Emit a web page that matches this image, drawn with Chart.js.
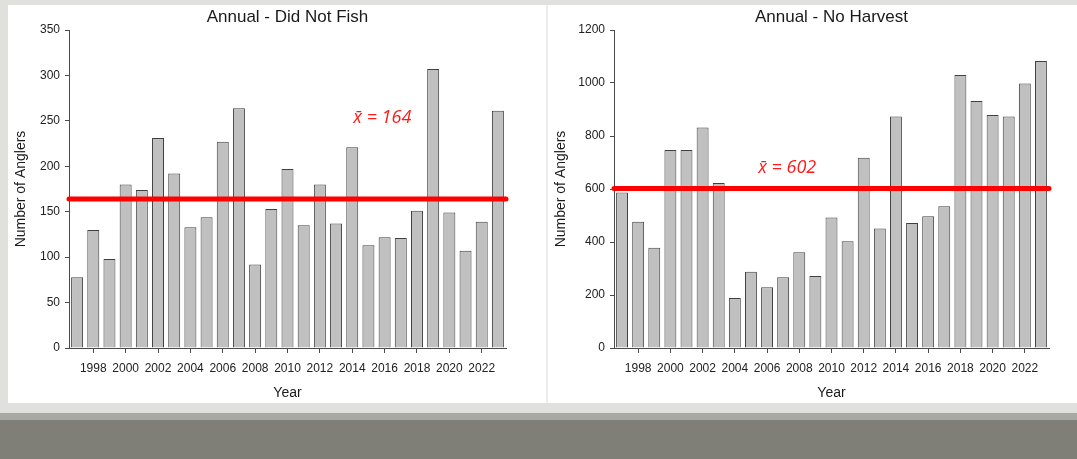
<!DOCTYPE html>
<html>
<head>
<meta charset="utf-8">
<script src="https://cdn.jsdelivr.net/npm/chart.js@4/dist/chart.umd.min.js"></script>
<style>
  html, body { margin: 0; padding: 0; }
  body { width: 1077px; height: 459px; background: #e0e0dc; position: relative; overflow: hidden; }
  .panel { position: absolute; top: 5px; height: 398px; background: #fff; }
  #panel_left { left: 8px; width: 538px; }
  #panel_right { left: 548px; width: 529px; }
  #sep { position: absolute; left: 546px; top: 5px; width: 2px; height: 398px; background: #ececea; }
  #band_mid { position: absolute; left: 0; top: 413px; width: 1077px; height: 7px; background: #a9a9a3; }
  #band_dark { position: absolute; left: 0; top: 420px; width: 1077px; height: 39px; background: #7f7f78; }
</style>
</head>
<body>
<div class="panel" id="panel_left"><canvas id="did_not_fish"></canvas></div>
<div id="sep"></div>
<div class="panel" id="panel_right"><canvas id="no_harvest"></canvas></div>
<div id="band_mid"></div>
<div id="band_dark"></div>

<script>
const years = [1997, 1998, 1999, 2000, 2001, 2002, 2003, 2004, 2005, 2006, 2007, 2008, 2009, 2010,
  2011, 2012, 2013, 2014, 2015, 2016, 2017, 2018, 2019, 2020, 2021, 2022, 2023];

const didNotFish = [78, 130, 98, 180, 174, 231, 192, 133, 144, 227, 264, 92, 153, 197,
  135, 180, 137, 221, 113, 122, 121, 151, 307, 149, 107, 139, 261];
const didNotFishMean = 164;

const noHarvest = [587, 476, 378, 747, 747, 832, 623, 189, 288, 229, 267, 361, 272, 492,
  403, 718, 451, 874, 472, 497, 535, 1030, 932, 879, 874, 998, 1083];
const noHarvestMean = 602;

const axisColor = '#4a4a4a';
const fontFamily = 'Liberation Sans, Arial, sans-serif';
const tickFont = { family: fontFamily, size: 12 };

// chart title centred on the plot area (not the whole canvas), like the original
const plotTitlePlugin = {
  id: 'plotTitle',
  afterDraw(chart, args, opts) {
    const { ctx, chartArea } = chart;
    ctx.save();
    ctx.fillStyle = '#1a1a1a';
    ctx.font = '17px ' + fontFamily;
    ctx.textAlign = 'center';
    ctx.textBaseline = 'middle';
    ctx.fillText(opts.text, (chartArea.left + chartArea.right) / 2, 12.5);
    ctx.restore();
  }
};

// draws the red mean line across the plot plus the x-bar label
const meanLinePlugin = {
  id: 'meanLine',
  afterDatasetsDraw(chart, args, opts) {
    const { ctx, chartArea, scales } = chart;
    const y = scales.y.getPixelForValue(opts.value);
    ctx.save();
    ctx.strokeStyle = '#ff0000';
    ctx.lineWidth = 5;
    ctx.lineCap = 'round';
    ctx.beginPath();
    ctx.moveTo(chartArea.left, y);
    ctx.lineTo(chartArea.right, y);
    ctx.stroke();

    ctx.fillStyle = '#ff1a1a';
    ctx.font = 'italic 18px "Open Sans", sans-serif';
    ctx.textAlign = 'center';
    ctx.textBaseline = 'middle';
    const lx = scales.x.getPixelForValue(opts.labelAt[0]);
    const ly = scales.y.getPixelForValue(opts.labelAt[1]);
    ctx.fillText('x\u0304 = ' + opts.value, lx, ly);
    ctx.restore();
  }
};

function makeBarChart(canvas_id, title, values, mean, yMax, yStep, yWidth, rightPad, labelAt, panelW) {
  const canvas = document.getElementById(canvas_id);
  canvas.width = panelW;
  canvas.height = 398;
  canvas.style.width = panelW + 'px';
  canvas.style.height = '398px';

  const config = {
    type: 'bar',
    data: {
      labels: years,
      datasets: [{
        data: values,
        backgroundColor: '#c0c0c0',
        borderColor: '#404040',
        borderWidth: 1,
        barPercentage: 0.74,
        categoryPercentage: 1
      }]
    },
    options: {
      responsive: false,
      animation: false,
      layout: { padding: { left: 0, right: rightPad, top: 25, bottom: 0 } },
      plugins: {
        legend: { display: false },
        tooltip: { enabled: false },
        title: { display: false },
        plotTitle: { text: title },
        meanLine: { value: mean, labelAt: labelAt }
      },
      scales: {
        x: {
          offset: true,
          grid: {
            offset: false,
            drawOnChartArea: false,
            tickLength: 5,
            tickColor: (ctx) => (years[ctx.index] % 2 === 0 ? axisColor : 'rgba(0,0,0,0)')
          },
          border: { display: true, color: axisColor, width: 1 },
          ticks: {
            autoSkip: false,
            maxRotation: 0,
            padding: 8,
            color: '#222',
            font: tickFont,
            callback: function (val, idx) {
              return years[idx] % 2 === 0 ? String(years[idx]) : '';
            }
          },
          title: {
            display: true,
            text: 'Year',
            color: '#1a1a1a',
            font: { family: fontFamily, size: 14 },
            padding: { top: 0, bottom: 1 }
          },
          afterFit: (scale) => { scale.height = 55; }
        },
        y: {
          min: 0,
          max: yMax,
          grid: { drawOnChartArea: false, tickLength: 4, color: axisColor },
          border: { display: true, color: axisColor, width: 1 },
          ticks: {
            stepSize: yStep,
            padding: 5,
            color: '#222',
            font: tickFont,
            callback: (val) => String(val)
          },
          title: {
            display: true,
            text: 'Number of Anglers',
            color: '#1a1a1a',
            font: { family: fontFamily, size: 14 },
            padding: { top: 5, bottom: 0 }
          },
          afterFit: (scale) => { scale.width = yWidth; }
        }
      }
    },
    plugins: [plotTitlePlugin, meanLinePlugin]
  };

  return new Chart(canvas, config);
}

makeBarChart('did_not_fish', 'Annual - Did Not Fish', didNotFish, didNotFishMean,
  350, 50, 61, 40, [18.86, 253], 538);
makeBarChart('no_harvest', 'Annual - No Harvest', noHarvest, noHarvestMean,
  1200, 200, 66, 28, [10.25, 679], 529);
</script>
</body>
</html>
